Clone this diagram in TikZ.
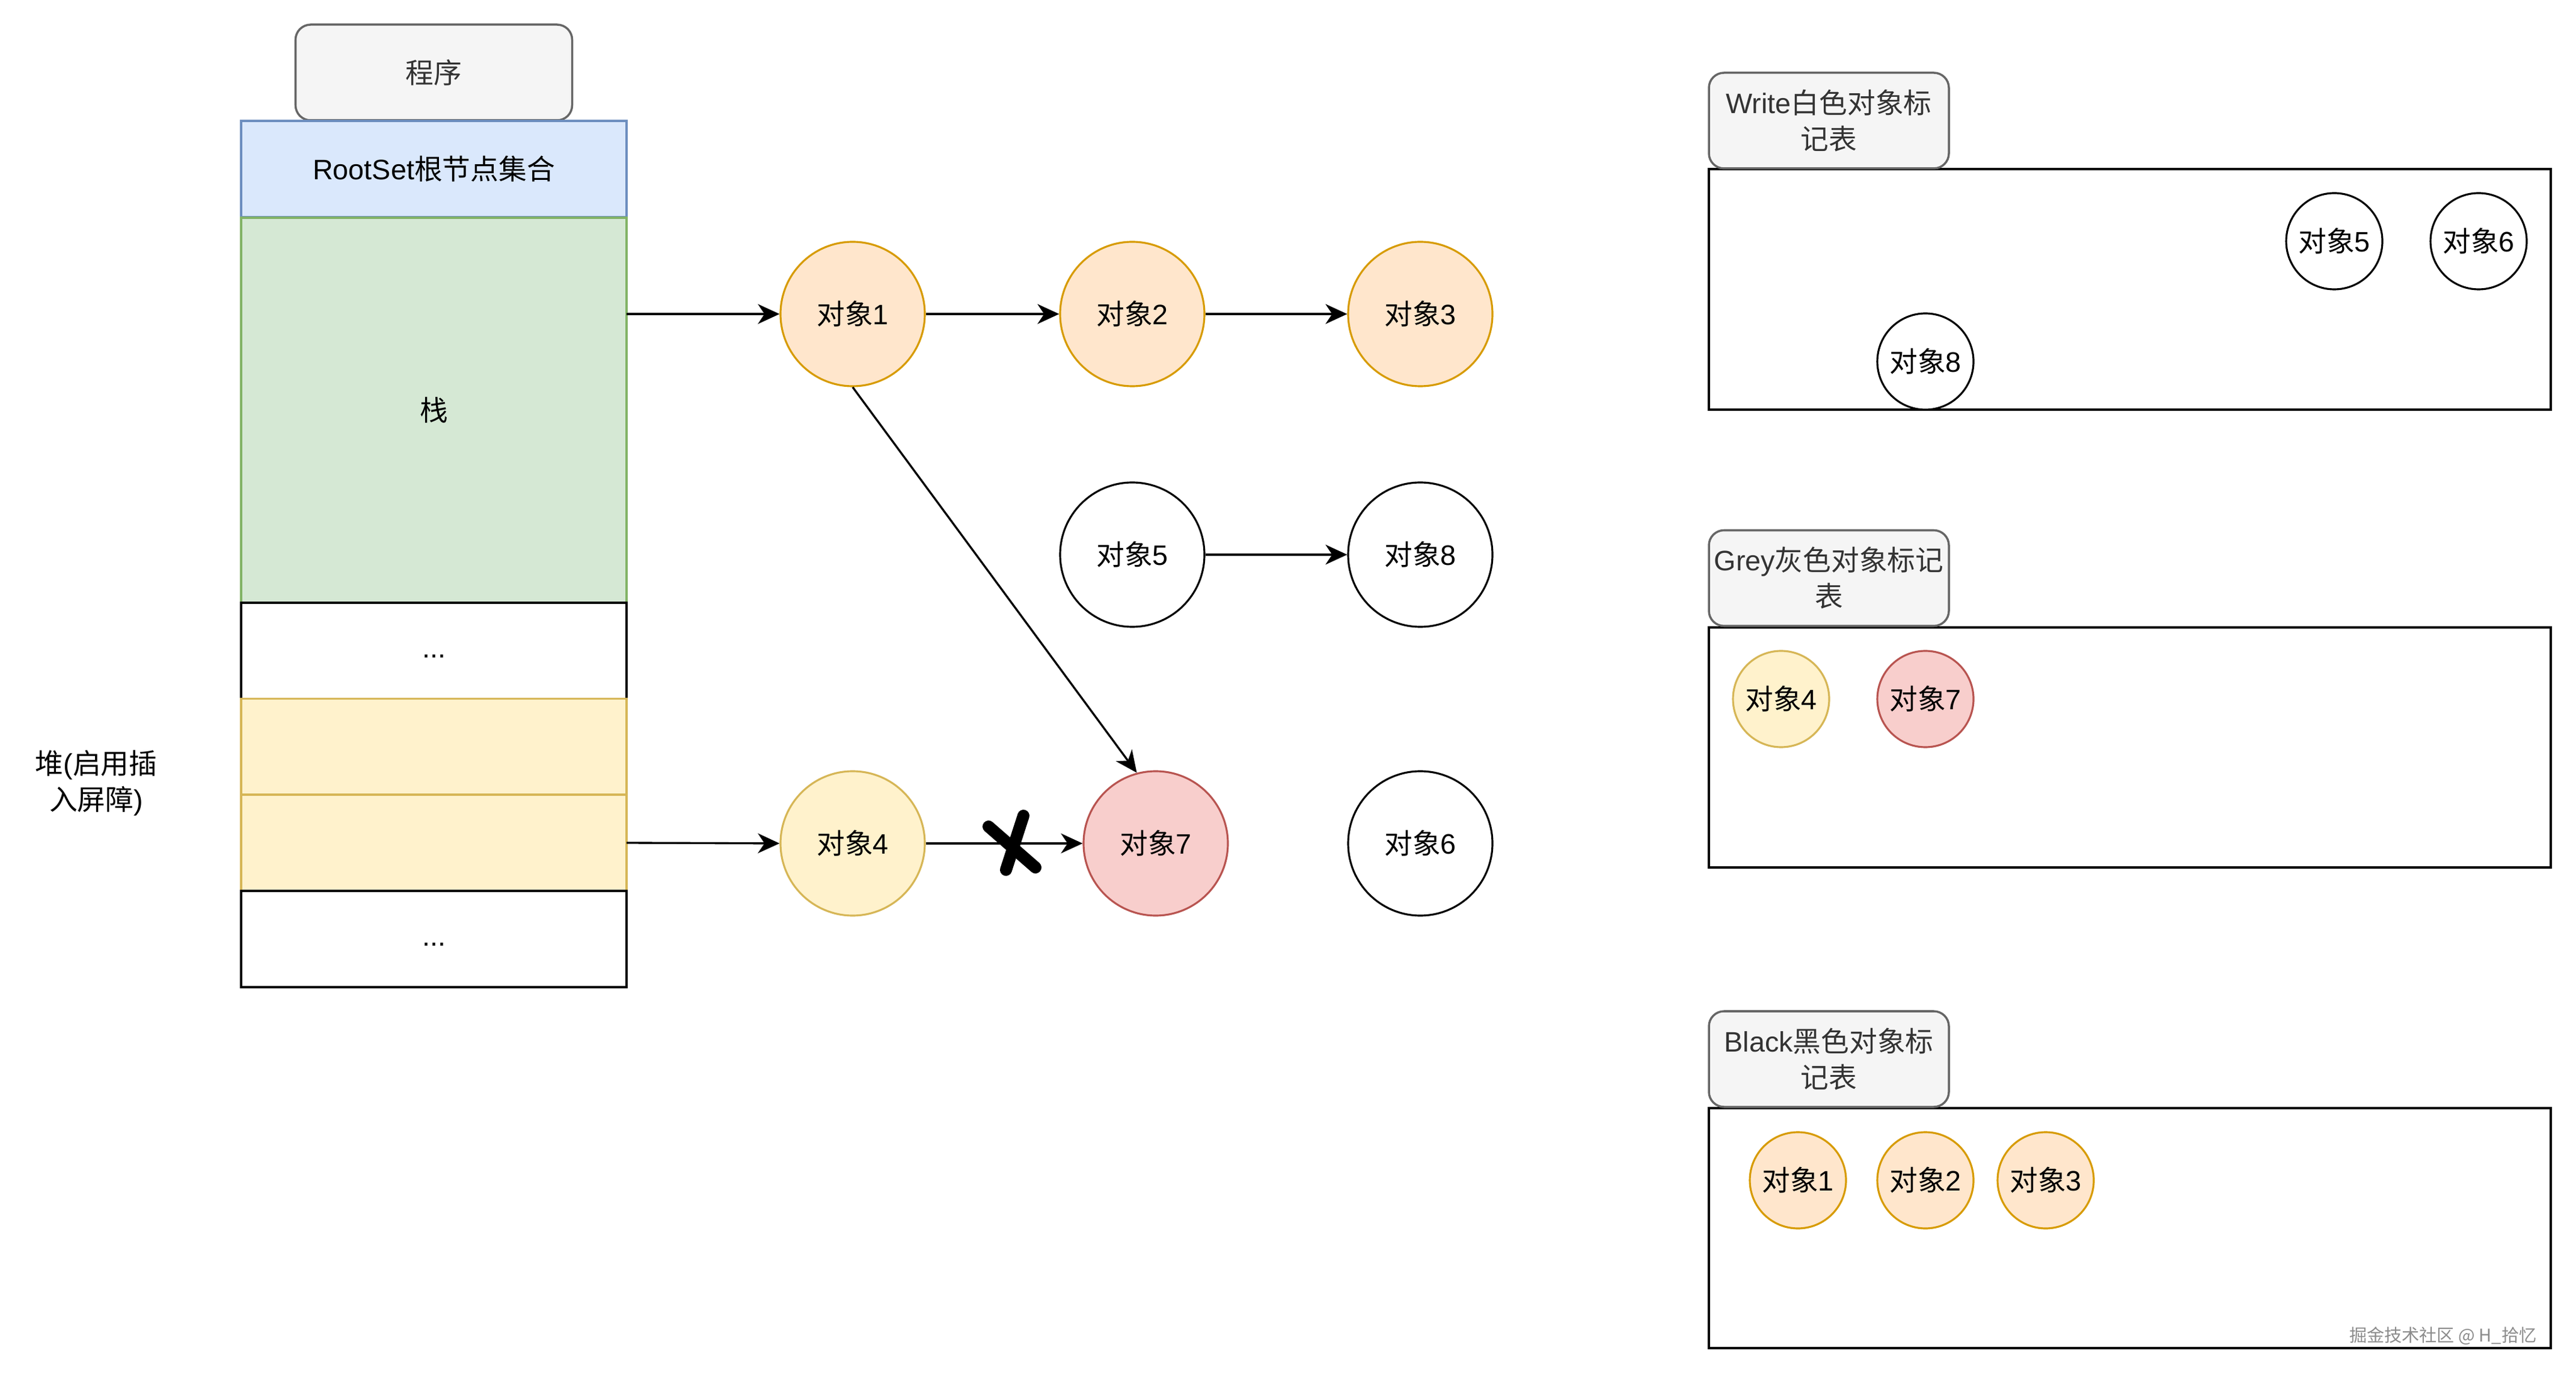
\documentclass[tikz,border=0pt]{standalone}
\usepackage{fontspec}
\setmainfont{Liberation Sans}
\newfontfamily\cjk{Noto Sans CJK SC}
\usetikzlibrary{arrows.meta}
\newcommand{\zh}[1]{{\cjk #1}}

\definecolor{orangefill}{HTML}{FFE6CC}
\definecolor{orangeline}{HTML}{D79B00}
\definecolor{yellowfill}{HTML}{FFF2CC}
\definecolor{yellowline}{HTML}{D6B656}
\definecolor{redfill}{HTML}{F8CECC}
\definecolor{redline}{HTML}{B85450}
\definecolor{bluefill}{HTML}{DAE8FC}
\definecolor{blueline}{HTML}{6C8EBF}
\definecolor{greenfill}{HTML}{D5E8D4}
\definecolor{greenline}{HTML}{82B366}
\definecolor{greyfill}{HTML}{F5F5F5}
\definecolor{greyline}{HTML}{666666}
\definecolor{greytext}{HTML}{333333}

\tikzset{
	txt/.style={font=\fontsize{13.3}{17}\selectfont},
	obj/.style={circle, draw, line width=0.9pt, inner sep=0pt, txt},
	bigobj/.style={obj, minimum size=2.4cm},
	smallobj/.style={obj, minimum size=1.6cm},
	orangeobj/.style={fill=orangefill, draw=orangeline},
	yellowobj/.style={fill=yellowfill, draw=yellowline},
	redobj/.style={fill=redfill, draw=redline},
	whiteobj/.style={fill=white, draw=black},
	layer/.style={rectangle, draw, line width=1pt, minimum width=6.41cm, minimum height=1.6cm, inner sep=0pt, outer sep=0pt, txt},
	tablabel/.style={rectangle, rounded corners=0.25cm, draw=greyline, fill=greyfill, text=greytext, line width=1pt, minimum width=3.99cm, minimum height=1.59cm, inner sep=0pt, align=center, txt},
	tabframe/.style={draw, line width=1pt},
	ref/.style={-{Stealth[length=3.6mm, width=3.3mm, inset=1.1mm]}, line width=0.95pt},
}

\begin{document}
\begin{tikzpicture}
			%%%%% START %%%%%
			\useasboundingbox (0, 0) rectangle (42.84, 22.88);
			
			\node[tablabel, text width=4.6cm] (prog) at (7.215, 21.675) {\zh{程序}};
			\node[layer, fill=bluefill, draw=blueline] (root) at (7.215, 20.07) {RootSet\zh{根节点集合}};
			\node[layer, fill=greenfill, draw=greenline, minimum height=6.4cm] (stack) at (7.215, 16.06) {\zh{栈}};
			\node[layer, fill=white] (dotsa) at (7.215, 12.06) {\strut...};
			\node[layer, fill=yellowfill, draw=yellowline] (heapa) at (7.215, 10.465) {};
			\node[layer, fill=yellowfill, draw=yellowline] (heapb) at (7.215, 8.87) {};
			\node[layer, fill=white] (dotsb) at (7.215, 7.27) {\strut...};
			
			\node[txt, align=center] (heaplbl) at (1.60, 9.86) {\zh{堆}(\zh{启用插}\\\zh{入屏障})};
			
			\node[bigobj, orangeobj] (o1) at (14.18, 17.66) {\zh{对象}1};
			\node[bigobj, orangeobj] (o2) at (18.83, 17.66) {\zh{对象}2};
			\node[bigobj, orangeobj] (o3) at (23.62, 17.66) {\zh{对象}3};
			\node[bigobj, whiteobj] (o5) at (18.83, 13.66) {\zh{对象}5};
			\node[bigobj, whiteobj] (o8) at (23.62, 13.66) {\zh{对象}8};
			\node[bigobj, yellowobj] (o4) at (14.18, 8.86) {\zh{对象}4};
			\node[bigobj, redobj] (o7) at (19.22, 8.86) {\zh{对象}7};
			\node[bigobj, whiteobj] (o6) at (23.62, 8.86) {\zh{对象}6};
			
			\draw[ref] (stack.east |- o1.west) -- (o1.west);
			\draw[ref] (o1) -- (o2);
			\draw[ref] (o2) -- (o3);
			\draw[ref] (o5) -- (o8);
			\draw[ref] (o1.south) -- (o7.105);
			\draw[ref] (heapb.east) -- (o4.west);
			\draw[ref] (o4) -- (o7);
			
			\draw[line width=0.2cm, line cap=round] (16.44, 9.14) -- (17.22, 8.46);
			\draw[line width=0.2cm, line cap=round] (17.02, 9.32) -- (16.73, 8.42);
			
			\draw[tabframe] (28.42, 16.07) rectangle (42.42, 20.07);
			\node[tablabel] (wlbl) at (30.415, 20.875) {Write\zh{白色对象标}\\\zh{记表}};
			\node[smallobj, whiteobj] (w5) at (38.82, 18.87) {\zh{对象}5};
			\node[smallobj, whiteobj] (w6) at (41.22, 18.87) {\zh{对象}6};
			\node[smallobj, whiteobj] (w8) at (32.02, 16.87) {\zh{对象}8};
			
			\draw[tabframe] (28.42, 8.46) rectangle (42.42, 12.45);
			\node[tablabel] (glbl) at (30.415, 13.27) {Grey\zh{灰色对象标记}\\\zh{表}};
			\node[smallobj, yellowobj] (g4) at (29.62, 11.26) {\zh{对象}4};
			\node[smallobj, redobj] (g7) at (32.02, 11.26) {\zh{对象}7};
			
			\draw[tabframe] (28.42, 0.47) rectangle (42.42, 4.46);
			\node[tablabel] (blbl) at (30.415, 5.275) {Black\zh{黑色对象标}\\\zh{记表}};
			\node[smallobj, orangeobj] (b1) at (29.90, 3.26) {\zh{对象}1};
			\node[smallobj, orangeobj] (b2) at (32.02, 3.26) {\zh{对象}2};
			\node[smallobj, orangeobj] (b3) at (34.02, 3.26) {\zh{对象}3};
			
			\node[anchor=east, text=black!45, font=\cjk\fontsize{8.3}{9}\selectfont] (mark) at (42.31, 0.67) {掘金技术社区 @ H\_拾忆};
			
			%%%%% END %%%%%
		\end{tikzpicture}
\end{document}
